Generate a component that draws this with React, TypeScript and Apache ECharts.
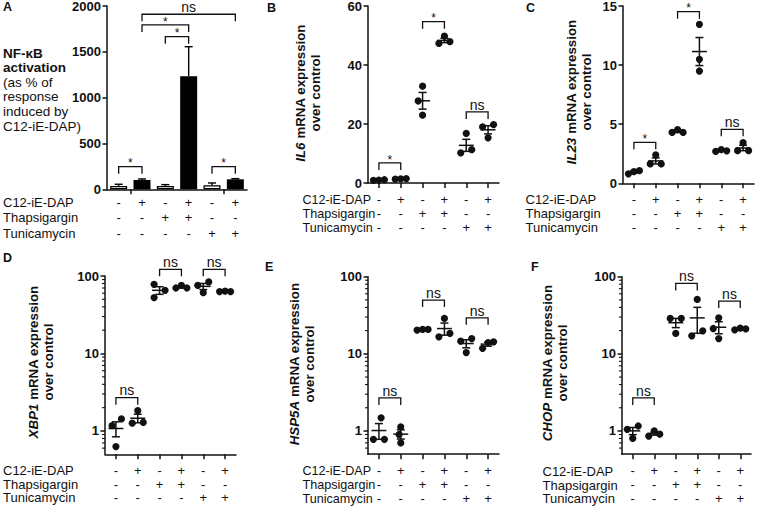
import React, { useEffect, useRef } from "react";
import * as echarts from "echarts";

// ---------------- data ----------------
const CATEGORIES = [
  "Control",
  "C12-iE-DAP",
  "Thapsigargin",
  "Thapsigargin + C12-iE-DAP",
  "Tunicamycin",
  "Tunicamycin + C12-iE-DAP",
];
const GROUPS = ["Vehicle", "Thapsigargin", "Tunicamycin"];
const ROW_NAMES = ["C12-iE-DAP", "Thapsigargin", "Tunicamycin"];
const C12_SIGNS = ["-", "+", "-", "+", "-", "+"];
const THAPS_SIGNS = ["-", "-", "+", "+", "-", "-"];
const TUNI_SIGNS = ["-", "-", "-", "-", "+", "+"];

// Panel A: NF-kB activation (bars, mean + SEM)
const A_TICKS = [0, 500, 1000, 1500, 2000];
const A_MEAN = [36, 102, 36, 1233, 44, 109];
const A_SEM = [19, 11, 15, 323, 25, 7];
const A_BRACKETS: [number, number, number, string][] = [
  [0, 1, 247, "*"],
  [2, 3, 1665, "*"],
  [1, 3, 1793, "*"],
  [1, 5, 1910, "ns"],
  [4, 5, 247, "*"],
];

// Panel B: IL6
const B_TICKS = [0, 20, 40, 60];
const B_VALUES = [
  [0.9, 1.0, 1.1],
  [1.3, 1.4, 1.5],
  [32.8, 27.8, 23.0],
  [47.3, 49.8, 47.9],
  [16.8, 10.2, 11.3],
  [19.0, 19.8, 15.3],
];
const B_BRACKETS: [number, number, number, string][] = [
  [0, 1, 6.8, "*"],
  [2, 3, 54.7, "*"],
  [4, 5, 24.1, "ns"],
];

// Panel C: IL23
const C_TICKS = [0, 5, 10, 15];
const C_VALUES = [
  [0.8, 0.98, 1.07],
  [2.4, 1.64, 1.64],
  [4.3, 4.55, 4.3],
  [13.45, 10.49, 9.5],
  [2.7, 2.85, 2.75],
  [3.44, 2.76, 2.76],
];
const C_BRACKETS: [number, number, number, string][] = [
  [0, 1, 3.47, "*"],
  [2, 3, 14.52, "*"],
  [4, 5, 4.57, "ns"],
];

// Panels D-F: log axis range and minor ticks
const LOG_RANGE = [0.5, 100];
const LOG_MINOR_TICKS = [0.6, 0.7, 0.8, 0.9, 2, 3, 4, 5, 6, 7, 8, 9, 20, 30, 40, 50, 60, 70, 80, 90];

// Panel D: XBP1 (log)
const D_VALUES = [
  [1.17, 1.43, 0.63],
  [1.83, 1.26, 1.29],
  [78.1, 65.4, 52.6],
  [70, 75.8, 70],
  [75.8, 83.7, 61],
  [63, 64, 63],
];
const D_BRACKETS: [number, number, number, string][] = [
  [0, 1, 2.69, "ns"],
  [2, 3, 122, "ns"],
  [4, 5, 122, "ns"],
];

// Panel E: HSP5A (log)
const E_VALUES = [
  [1.48, 0.78, 0.78],
  [1.13, 0.9, 0.7],
  [20.3, 20.7, 20.7],
  [28.8, 16.6, 18.4],
  [14.6, 15.8, 10.4],
  [11.8, 14.0, 14.3],
];
const E_BRACKETS: [number, number, number, string][] = [
  [0, 1, 2.68, "ns"],
  [2, 3, 49.8, "ns"],
  [4, 5, 29.3, "ns"],
];

// Panel F: CHOP (log)
const F_VALUES = [
  [1.05, 1.16, 0.8],
  [0.86, 1.0, 0.91],
  [28.8, 28.8, 18.4],
  [50.8, 17.1, 19.9],
  [29.3, 21.3, 15.8],
  [20.5, 21.5, 21.0],
];
const F_BRACKETS: [number, number, number, string][] = [
  [0, 1, 2.68, "ns"],
  [2, 3, 81.9, "ns"],
  [4, 5, 48.3, "ns"],
];

// ---------------- layout / style ----------------
const FONT = "'Liberation Sans', Arial, Helvetica, sans-serif";
const INK = "#111";
const JITTER_PX = 5.5;

const B_JITTER = [[-1, 0, 1], [-1, 0, 1], [0, -0.8, 0], [-1, 0, 1], [0, -1, 1], [-1, 1, 0]];
const C_JITTER = [[-1, 0, 1], [0, -1, 1], [-1, 0, 1], [0, 0, 0], [-1, 0, 1], [0, -1, 1]];
const D_JITTER = [[-0.7, 1, 0], [0, -1, 1], [-1, 1, -1], [-1, 0, 1], [-1, 1, 0], [-1, 0, 1]];
const E_JITTER = [[0.4, -1, 1], [0, -0.3, 0], [-1, 0, 1], [0, -1, 1], [-1, 1, 0], [-1, 0, 1]];
const F_JITTER = [[-1, 1, 0], [-1, 0, 1], [-1, 1, 0], [0, -1, 1], [0, -1, 0], [-1, 0, 1]];

const LAYOUT = {
  A: { left: 107, top: 6, width: 140, height: 183.3, lh: 15.5, margin: 5 },
  B: { left: 368, top: 6, width: 131, height: 177, lh: 14, margin: 9.5 },
  C: { left: 623, top: 6, width: 131, height: 177.3, lh: 14, margin: 9.5 },
  D: { left: 105, top: 276, width: 131, height: 178.3, lh: 13.75, margin: 9.3 },
  E: { left: 368, top: 276.7, width: 131, height: 177.5, lh: 13.75, margin: 9.9 },
  F: { left: 622, top: 276.7, width: 129, height: 177.5, lh: 13.75, margin: 9.9 },
};

function mean(v: number[]) {
  return v.reduce((a, b) => a + b, 0) / v.length;
}
function sem(v: number[]) {
  const m = mean(v);
  const sd = Math.sqrt(v.reduce((a, b) => a + (b - m) * (b - m), 0) / (v.length - 1));
  return sd / Math.sqrt(v.length);
}

const lineStyle = { color: INK, width: 1.5 };

function signAxis(gridIndex: number, lay: any, showTick: boolean) {
  return {
    gridIndex,
    type: "category",
    data: CATEGORIES,
    position: "bottom",
    boundaryGap: true,
    axisLine: { show: true, onZero: false, lineStyle },
    axisTick: { show: showTick, alignWithLabel: true, length: 5, lineStyle },
    axisLabel: {
      show: true,
      interval: 0,
      margin: lay.margin,
      fontSize: 13,
      lineHeight: lay.lh,
      fontFamily: FONT,
      color: INK,
      formatter: (_v: string, i: number) => [C12_SIGNS[i], THAPS_SIGNS[i], TUNI_SIGNS[i]].join("\n"),
    },
    splitLine: { show: false },
  };
}

function valueAxis(gridIndex: number, ticks: number[]) {
  return {
    gridIndex,
    type: "value",
    min: ticks[0],
    max: ticks[ticks.length - 1],
    interval: ticks[1] - ticks[0],
    axisLine: { show: true, lineStyle },
    axisTick: { show: true, length: 4.5, lineStyle },
    axisLabel: {
      fontSize: 13,
      fontWeight: "bold",
      fontFamily: FONT,
      color: INK,
      margin: 6,
      formatter: (v: number) => String(v),
    },
    splitLine: { show: false },
  };
}

function logAxis(gridIndex: number) {
  return {
    gridIndex,
    type: "log",
    logBase: 10,
    min: LOG_RANGE[0],
    max: LOG_RANGE[1],
    axisLine: { show: true, lineStyle },
    axisTick: { show: true, length: 4.5, lineStyle },
    minorTick: { show: false },
    axisLabel: {
      fontSize: 13,
      fontWeight: "bold",
      fontFamily: FONT,
      color: INK,
      margin: 6,
      showMinLabel: false,
      formatter: (v: number) => (v >= 1 ? String(Math.round(v)) : ""),
    },
    splitLine: { show: false },
    minorSplitLine: { show: false },
  };
}

function minorTickSeries(xi: number, yi: number) {
  return {
    type: "custom",
    xAxisIndex: xi,
    yAxisIndex: yi,
    silent: true,
    clip: false,
    z: 5,
    data: LOG_MINOR_TICKS.map((v) => [0, v]),
    encode: { x: 0, y: 1 },
    renderItem: (params: any, api: any) => {
      const p = api.coord([0, api.value(1)]);
      const x0 = params.coordSys.x;
      return {
        type: "line",
        shape: { x1: x0 - 3, y1: p[1], x2: x0, y2: p[1] },
        style: { stroke: INK, lineWidth: 1.1 },
      };
    },
  };
}

function bracketSeries(xi: number, yi: number, brackets: [number, number, number, string][]) {
  return {
    type: "custom",
    xAxisIndex: xi,
    yAxisIndex: yi,
    silent: true,
    clip: false,
    z: 6,
    data: brackets.map((b) => [b[0], b[2], b[1]]),
    encode: { x: 0, y: 1 },
    renderItem: (params: any, api: any) => {
      const b = brackets[params.dataIndex];
      const p1 = api.coord([b[0], b[2]]);
      const p2 = api.coord([b[1], b[2]]);
      const leg = 7;
      const star = b[3] === "*";
      return {
        type: "group",
        children: [
          {
            type: "polyline",
            shape: {
              points: [
                [p1[0], p1[1] + leg],
                [p1[0], p1[1]],
                [p2[0], p2[1]],
                [p2[0], p2[1] + leg],
              ],
            },
            style: { stroke: INK, lineWidth: 1.3, fill: "none" },
          },
          {
            type: "text",
            x: (p1[0] + p2[0]) / 2,
            y: p1[1] - (star ? 3.3 : 7.2),
            style: {
              text: b[3],
              fontSize: star ? 12 : 14,
              lineHeight: 10,
              fontFamily: FONT,
              fill: INK,
              align: "center",
              verticalAlign: "middle",
            },
          },
        ],
      };
    },
  };
}

function dotSeries(xi: number, yi: number, values: number[][], jitter: number[][]) {
  const data: number[][] = [];
  values.forEach((g, gi) => g.forEach((v, k) => data.push([gi, v, jitter[gi][k]])));
  return {
    type: "custom",
    xAxisIndex: xi,
    yAxisIndex: yi,
    silent: true,
    z: 3,
    data,
    encode: { x: 0, y: 1 },
    renderItem: (_p: any, api: any) => {
      const p = api.coord([api.value(0), api.value(1)]);
      return {
        type: "circle",
        shape: { cx: p[0] + api.value(2) * JITTER_PX, cy: p[1], r: 3.6 },
        style: { fill: INK },
      };
    },
  };
}

function meanSemSeries(xi: number, yi: number, values: number[][]) {
  return {
    type: "custom",
    xAxisIndex: xi,
    yAxisIndex: yi,
    silent: true,
    z: 4,
    data: values.map((g, gi) => [gi, mean(g), sem(g)]),
    encode: { x: 0, y: 1 },
    renderItem: (_p: any, api: any) => {
      const i = api.value(0);
      const m = api.value(1);
      const s = api.value(2);
      const pm = api.coord([i, m]);
      const ph = api.coord([i, m + s]);
      const pl = api.coord([i, m - s]);
      const st = { stroke: INK, lineWidth: 1.5 };
      const x = pm[0];
      return {
        type: "group",
        children: [
          { type: "line", shape: { x1: x - 7.5, y1: pm[1], x2: x + 7.5, y2: pm[1] }, style: st },
          { type: "line", shape: { x1: x, y1: ph[1], x2: x, y2: pl[1] }, style: st },
          { type: "line", shape: { x1: x - 4, y1: ph[1], x2: x + 4, y2: ph[1] }, style: st },
          { type: "line", shape: { x1: x - 4, y1: pl[1], x2: x + 4, y2: pl[1] }, style: st },
        ],
      };
    },
  };
}

function buildOption() {
  const grid: any[] = [];
  const xAxis: any[] = [];
  const yAxis: any[] = [];
  const series: any[] = [];

  // Panel A
  const la = LAYOUT.A;
  grid.push({ left: la.left, top: la.top, width: la.width, height: la.height, containLabel: false, outerBoundsMode: "none" });
  xAxis.push(signAxis(0, la, false));
  xAxis.push({
    gridIndex: 0,
    type: "category",
    data: GROUPS,
    position: "bottom",
    boundaryGap: true,
    axisLine: { show: false, onZero: false },
    axisTick: { show: true, alignWithLabel: true, length: 5, lineStyle },
    axisLabel: { show: false },
    splitLine: { show: false },
  });
  yAxis.push(valueAxis(0, A_TICKS));
  series.push({
    type: "bar",
    xAxisIndex: 0,
    yAxisIndex: 0,
    barWidth: 17,
    silent: true,
    z: 2,
    data: A_MEAN.map((v, i) => ({
      value: v,
      itemStyle:
        C12_SIGNS[i] === "+"
          ? { color: "#000", borderColor: "#000", borderWidth: 0 }
          : { color: "#fff", borderColor: "#000", borderWidth: 1.3 },
    })),
  });
  series.push({
    type: "custom",
    xAxisIndex: 0,
    yAxisIndex: 0,
    silent: true,
    z: 3,
    data: A_MEAN.map((m, i) => [i, m, A_SEM[i]]),
    encode: { x: 0, y: 1 },
    renderItem: (_p: any, api: any) => {
      const i = api.value(0);
      const pb = api.coord([i, api.value(1)]);
      const pt = api.coord([i, api.value(1) + api.value(2)]);
      const st = { stroke: "#000", lineWidth: 1.4 };
      return {
        type: "group",
        children: [
          { type: "line", shape: { x1: pb[0], y1: pb[1], x2: pt[0], y2: pt[1] }, style: st },
          { type: "line", shape: { x1: pt[0] - 4, y1: pt[1], x2: pt[0] + 4, y2: pt[1] }, style: st },
        ],
      };
    },
  });
  series.push(bracketSeries(0, 0, A_BRACKETS));

  const panels: any[] = [
    { lay: LAYOUT.B, ticks: B_TICKS, values: B_VALUES, jit: B_JITTER, br: B_BRACKETS },
    { lay: LAYOUT.C, ticks: C_TICKS, values: C_VALUES, jit: C_JITTER, br: C_BRACKETS },
    { lay: LAYOUT.D, ticks: null, values: D_VALUES, jit: D_JITTER, br: D_BRACKETS },
    { lay: LAYOUT.E, ticks: null, values: E_VALUES, jit: E_JITTER, br: E_BRACKETS },
    { lay: LAYOUT.F, ticks: null, values: F_VALUES, jit: F_JITTER, br: F_BRACKETS },
  ];
  panels.forEach((p, k) => {
    const gi = k + 1;
    const xi = k + 2;
    const yi = k + 1;
    grid.push({ left: p.lay.left, top: p.lay.top, width: p.lay.width, height: p.lay.height, containLabel: false, outerBoundsMode: "none" });
    xAxis.push(signAxis(gi, p.lay, true));
    yAxis.push(p.ticks ? valueAxis(gi, p.ticks) : logAxis(gi));
    if (!p.ticks) series.push(minorTickSeries(xi, yi));
    series.push(dotSeries(xi, yi, p.values, p.jit));
    series.push(meanSemSeries(xi, yi, p.values));
    series.push(bracketSeries(xi, yi, p.br));
  });

  const letter = (t: string, x: number, y: number) => ({
    type: "text",
    x,
    y,
    style: { text: t, fontSize: 12.5, fontWeight: "bold", fontFamily: FONT, fill: INK, align: "left", verticalAlign: "middle" },
  });
  const rowNames = (x: number, y: number, lh: number, fs: number) => ({
    type: "text",
    x,
    y,
    style: {
      text: ROW_NAMES.join("\n"),
      fontSize: fs,
      lineHeight: lh,
      fontFamily: FONT,
      fill: INK,
      align: "left",
      verticalAlign: "middle",
    },
  });
  const richStyles = {
    i: { fontSize: 13.3, fontWeight: "bold", fontStyle: "italic", fontFamily: FONT, fill: INK, lineHeight: 15 },
    b: { fontSize: 13.3, fontWeight: "bold", fontFamily: FONT, fill: INK, lineHeight: 15 },
  };
  const yName = (gene: string, x: number, y: number) => ({
    type: "text",
    x,
    y,
    rotation: Math.PI / 2,
    style: {
      text: `{i|${gene}}{b| mRNA expression}\n{b|over control}`,
      rich: richStyles,
      align: "center",
      verticalAlign: "middle",
      fill: INK,
    },
  });

  const graphic = [
    letter("A", 3, 7),
    letter("B", 267, 7.5),
    letter("C", 526, 7.5),
    letter("D", 3, 258),
    letter("E", 265, 266.5),
    letter("F", 531, 266.5),
    {
      type: "text",
      x: 3,
      y: 89.5,
      style: {
        text: "{b|NF-κB}\n{b|activation}\n{n|(as % of}\n{n|response}\n{n|induced by}\n{n|C12-iE-DAP)}",
        rich: {
          b: { fontSize: 13.5, fontWeight: "bold", fontFamily: FONT, fill: INK, lineHeight: 14.6 },
          n: { fontSize: 13.5, fontFamily: FONT, fill: INK, lineHeight: 14.6 },
        },
        align: "left",
        verticalAlign: "middle",
      },
    },
    yName("IL6", 307.5, 93),
    yName("IL23", 578.5, 92),
    yName("XBP1", 40.5, 362),
    yName("HSP5A", 301.5, 364),
    yName("CHOP", 555, 363),
    rowNames(3, 217.5, 15.5, 13),
    rowNames(302.5, 213.5, 14, 12.6),
    rowNames(525.5, 213.5, 14, 13),
    rowNames(3, 484.2, 13.75, 13),
    rowNames(302.5, 485, 13.75, 12.6),
    rowNames(542.5, 485, 13.75, 13),
  ];

  return {
    animation: false,
    backgroundColor: "#fff",
    textStyle: { fontFamily: FONT },
    grid,
    xAxis,
    yAxis,
    series,
    graphic,
  };
}

export default function App() {
  const ref = useRef<HTMLDivElement>(null);
  useEffect(() => {
    if (!ref.current) return;
    const chart = echarts.init(ref.current, undefined, { renderer: "svg" });
    chart.setOption(buildOption() as any);
    return () => chart.dispose();
  }, []);
  return (
    <div
      ref={ref}
      style={{ position: "fixed", left: 0, top: 0, width: 760, height: 506, background: "#fff" }}
    />
  );
}
